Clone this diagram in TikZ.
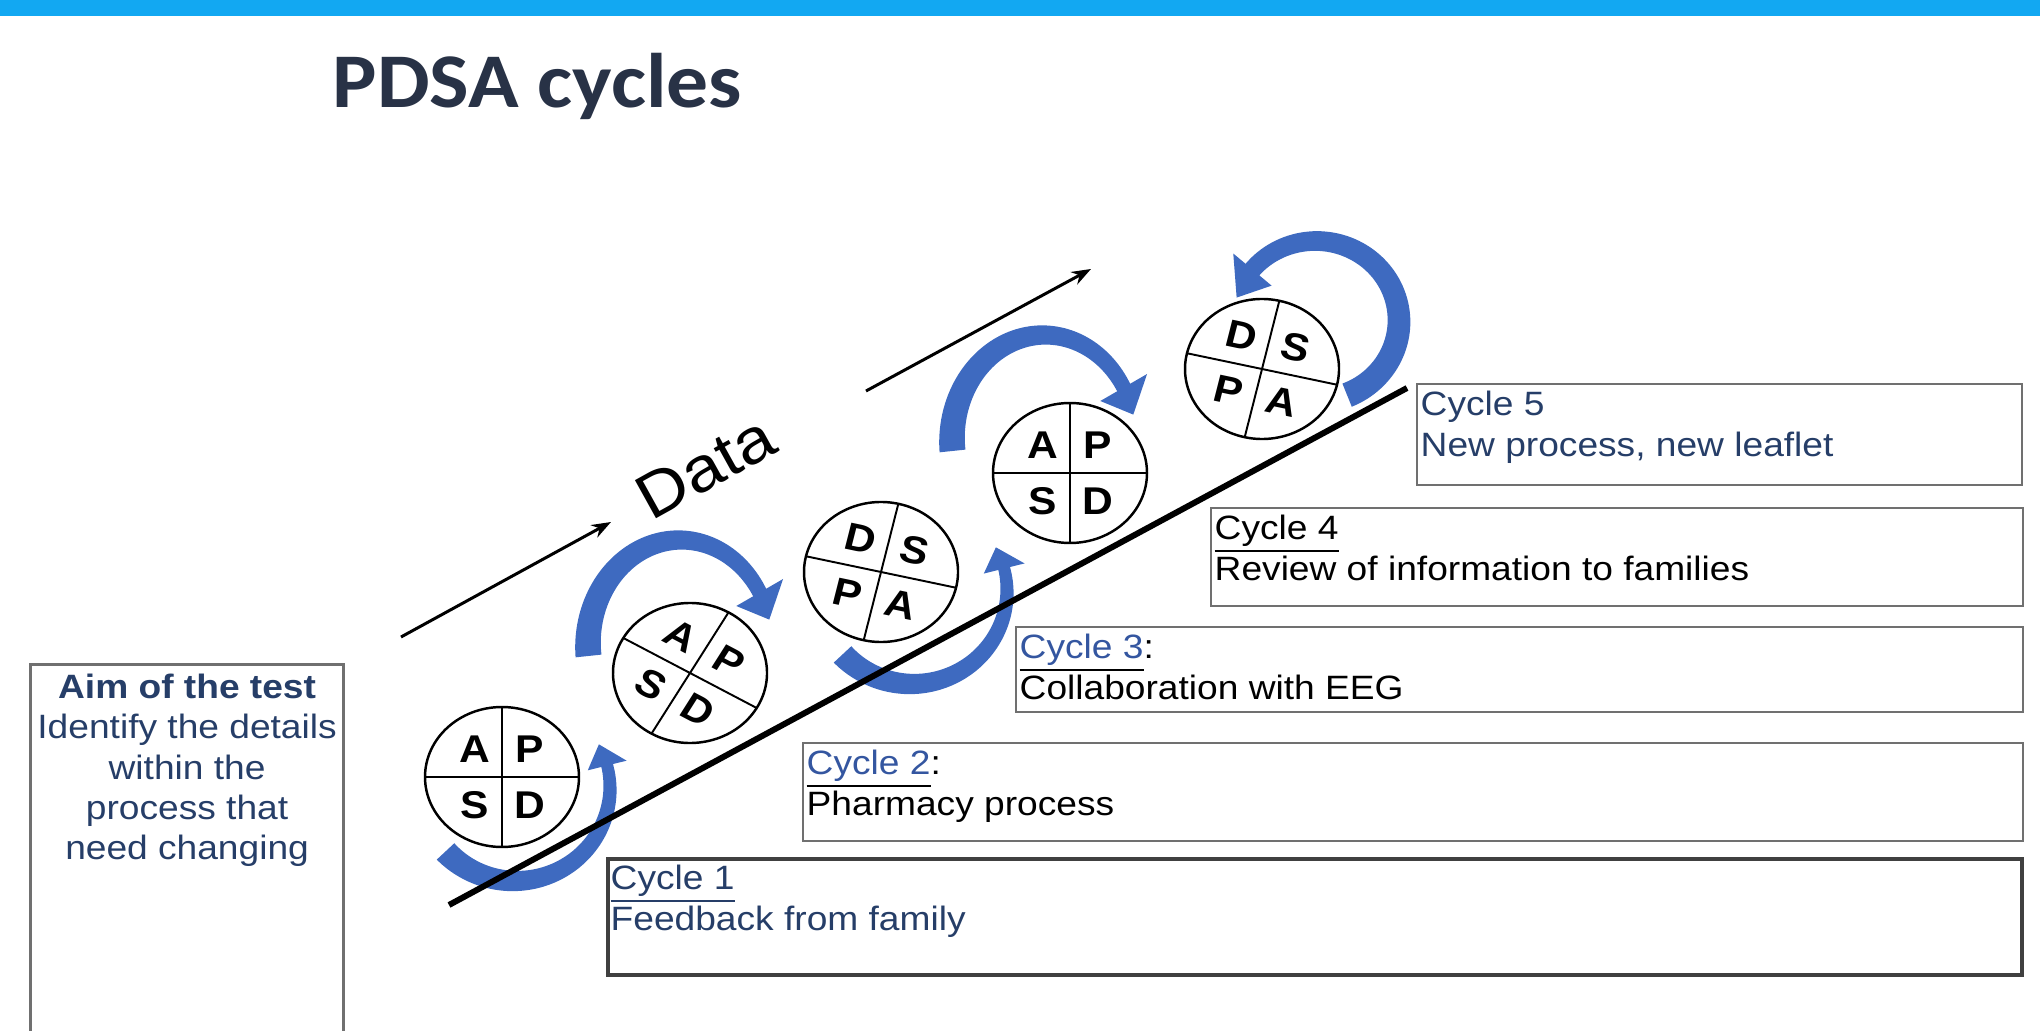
\documentclass[tikz,border=0pt]{standalone}
\usepackage{fontspec}
\setmainfont{Liberation Sans}[FakeStretch=1.1]
\newfontfamily\pdsafont{Liberation Sans}
\newfontfamily\titlefont{Carlito}[FakeStretch=1.08]
\usepackage{tikz}
\usetikzlibrary{arrows.meta}
\usetikzlibrary{calc}

\definecolor{barblue}{RGB}{18,168,242}
\definecolor{titlegray}{RGB}{40,50,70}
\definecolor{navytext}{RGB}{38,62,104}
\definecolor{linkblue}{RGB}{52,86,160}
\definecolor{arrowblue}{RGB}{62,106,192}
\definecolor{boxgray}{RGB}{112,112,112}

\begin{document}
\begin{tikzpicture}[x=0.01cm,y=0.01cm,
    cyclebox/.style={draw=boxgray, line width=0.6pt, rectangle, inner sep=0pt, anchor=north west},
    cycletext/.style={anchor=north west, inner sep=0pt, align=left, font={\fontsize{9.6}{11.7}\selectfont}},
    letter/.style={font={\pdsafont\bfseries\fontsize{11}{13}\selectfont}, inner sep=0pt, transform shape},
    cycarrow/.style={fill=arrowblue},
    dataarrow/.style={line width=0.85pt, -{Stealth[length=5.5pt,width=4pt]}}]

		\useasboundingbox (0,0) rectangle (2040,-1031);
		\fill [barblue] (0,0) rectangle (2040,-16);
		
		\node [anchor=base west, inner sep=0pt, text=titlegray, font={\titlefont\bfseries\fontsize{22}{24}\selectfont}] (Title) at (332,-108) {PDSA cycles};
		
		% curved block arrows round the cycles
		\foreach \cx/\cy/\rx/\ry/\angA/\angB/\tip/\wA/\wB/\hw in {
			515/788/95/93/223/374/14/24/12/20,
			680/645/92/105/186/30/-16/26/15/27,
			912/591/95/93/223/374/14/24/12/21,
			1044/440/92/105/186/30/-16/26/15/27,
			1316/321/83/80/-68/140/23/25/18/25}
		{
			\begin{scope}[shift={(\cx,-\cy)}]
				\fill [cycarrow] plot [domain=\angA:\angB, samples=40, smooth] ({\x}:{\rx+(\wA+(\wB-\wA)*(\x-\angA)/(\angB-\angA))/2} and {\ry+(\wA+(\wB-\wA)*(\x-\angA)/(\angB-\angA))/2})
					-- (\angB:{\rx+\hw} and {\ry+\hw}) -- ({\angB+\tip}:{\rx} and {\ry}) -- (\angB:{\rx-\hw} and {\ry-\hw})
					-- plot [domain=\angB:\angA, samples=40, smooth] ({\x}:{\rx-(\wA+(\wB-\wA)*(\x-\angA)/(\angB-\angA))/2} and {\ry-(\wA+(\wB-\wA)*(\x-\angA)/(\angB-\angA))/2}) -- cycle;
			\end{scope}
		}
		
		\coordinate (Base) at (449,-905);
		\coordinate (Top) at (1407,-388);
		\draw [line width=1.7pt] (Base) -- (Top);
		
		% PDSA wheels
		\foreach \n/\cx/\cy/\rot/\qa/\qb/\qc/\qd in {1/502/777/0/A/P/S/D, 2/690/673/-30/A/P/S/D, 3/881/572/-13/D/S/P/A, 4/1070/473/0/A/P/S/D, 5/1262/369/-13/D/S/P/A}
		{
			\begin{scope}[shift={(\cx,-\cy)}, xscale=1.1, rotate=\rot]
				\draw [fill=white, line width=0.7pt] (0,0) circle (70);
				\draw [line width=0.55pt] (-70,0) -- (70,0) (0,-70) -- (0,70);
				\node [letter] (UL\n) at (-25,28) {\qa};
				\node [letter] (UR\n) at (25,28) {\qb};
				\node [letter] (LL\n) at (-25,-28) {\qc};
				\node [letter] (LR\n) at (25,-28) {\qd};
			\end{scope}
		}
		
		\coordinate (D1) at (401,-637);
		\coordinate (D2) at (611,-522);
		\coordinate (D3) at (866,-391);
		\coordinate (D4) at (1091,-269);
		\draw [dataarrow] (D1) -- (D2);
		\draw [dataarrow] (D3) -- (D4);
		\node [rotate=29, anchor=base, inner sep=0pt, font={\fontsize{18}{20}\selectfont}] (Data) at (716,-486) {Data};
		
		\node [cyclebox, line width=0.85pt, minimum width=3.13cm, minimum height=3.8cm] (Aim) at (29,-663) {};
		\node [anchor=north, inner sep=0pt, align=center, text=navytext, font={\fontsize{9.6}{11.5}\selectfont}] (AimText) at ($(Aim.north)+(0,-10)$) {\textbf{Aim of the test}\\Identify the details\\within the\\process that\\need changing};
		
		\node [cyclebox, minimum width=6.05cm, minimum height=1.01cm] (C5) at (1416,-383) {};
		\node [cycletext, text=navytext] (T5) at ($(C5.north west)+(4,-7)$) {Cycle 5\\New process, new leaflet};
		
		\node [cyclebox, minimum width=8.11cm, minimum height=0.98cm] (C4) at (1210,-507) {};
		\node [cycletext] (T4) at ($(C4.north west)+(4,-7)$) {\underline{Cycle 4}\\Review of information to families};
		
		\node [cyclebox, minimum width=10.06cm, minimum height=0.85cm] (C3) at (1015,-626) {};
		\node [cycletext] (T3) at ($(C3.north west)+(4,-7)$) {\underline{\textcolor{linkblue}{Cycle 3}}:\\Collaboration with EEG};
		
		\node [cyclebox, minimum width=12.19cm, minimum height=0.98cm] (C2) at (802,-742) {};
		\node [cycletext] (T2) at ($(C2.north west)+(4,-7)$) {\underline{\textcolor{linkblue}{Cycle 2}}:\\Pharmacy process};
		
		\node [cyclebox, draw=black!75, line width=1.1pt, minimum width=14.13cm, minimum height=1.16cm] (C1) at (606,-857) {};
		\node [cycletext, text=navytext] (T1) at ($(C1.north west)+(4,-7)$) {\underline{Cycle 1}\\Feedback from family};
		
\end{tikzpicture}
\end{document}
